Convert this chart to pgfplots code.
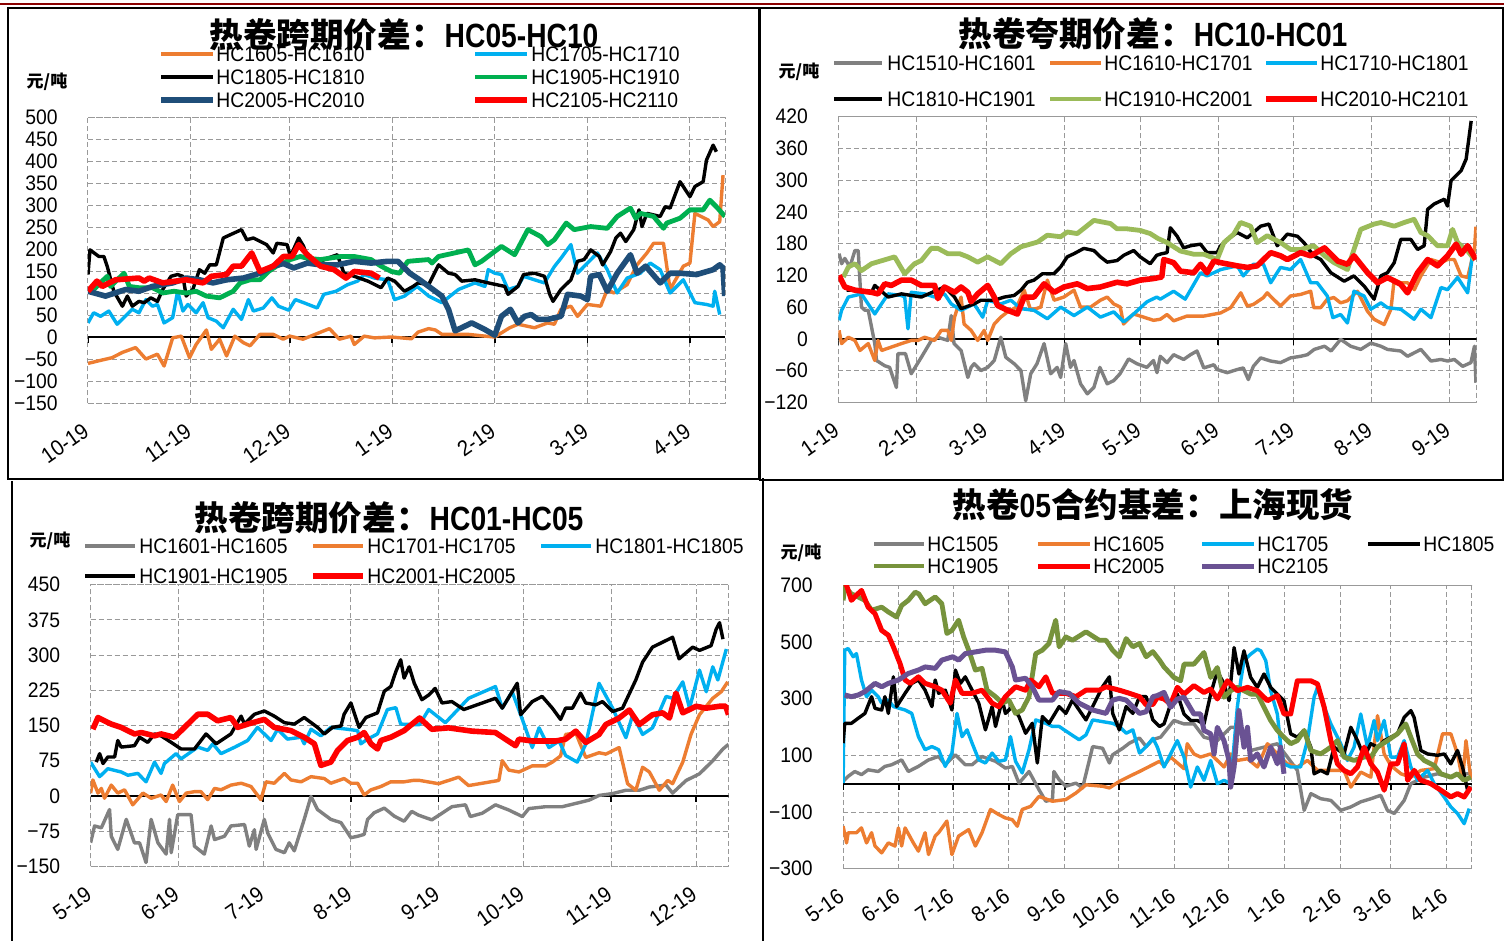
\documentclass[border=0pt]{standalone}
\usepackage{fontspec}
\setmainfont{Liberation Sans}[FakeStretch=0.92]
\newfontfamily\cjk{Noto Sans CJK SC}
\newfontfamily\titlefont{Liberation Sans}[FakeStretch=0.84]
\usepackage{pgfplots}
\pgfplotsset{compat=1.18}
\definecolor{corange}{HTML}{ED7D31}
\definecolor{cblue}{HTML}{00B0F0}
\definecolor{cgreen}{HTML}{00B050}
\definecolor{cdark}{HTML}{1F4E79}
\definecolor{cred}{HTML}{FF0000}
\definecolor{cgray}{HTML}{808080}
\definecolor{clgreen}{HTML}{9BBB59}
\definecolor{colive}{HTML}{77933C}
\definecolor{cpurple}{HTML}{6A5293}
\definecolor{cgrid}{HTML}{999999}
\definecolor{cframe}{HTML}{8B0000}
\pgfplotsset{
  panel/.style={
    scale only axis, no markers,
    axis line style={cgrid, line width=0.5pt, dash pattern=on 2.5pt off 1.5pt},
    grid=major,
    major grid style={cgrid, line width=0.5pt, dash pattern=on 2.5pt off 1.5pt},
    major tick length=0pt,
    xticklabel style={font=\fontsize{11}{12}\selectfont, rotate=35, anchor=east, inner sep=1pt},
    xticklabel shift=12pt,
    yticklabel style={font=\fontsize{10.5}{12}\selectfont, anchor=east, inner sep=0pt, xshift=-15pt},
    line join=round,
  },
  thin/.style={line width=1.7pt},
  thick/.style={line width=2.8pt},
}
\begin{document}
\begin{tikzpicture}
\path[use as bounding box] (0,0) rectangle (752pt,-470.5pt);
\fill[white] (0,0) rectangle (752pt,-470.5pt);

% ================= Panel 1 =================
\begin{axis}[panel, at={(44pt,-201.5pt)}, anchor=south west,
  width=318.5pt, height=143pt, xmin=0, xmax=192.6, ymin=-150, ymax=500,
  xtick={0,31,61,92,123,151,182},
  xticklabels={10-19,11-19,12-19,1-19,2-19,3-19,4-19},
  ytick={-150,-100,...,500},
  yticklabels={−150,−100,−50,0,50,100,150,200,250,300,350,400,450,500}]
\addplot[black, line width=1pt, forget plot] coordinates {(0,0) (192.6,0)};
\addplot[black, line width=0.8pt, ycomb, forget plot] coordinates {(0,-14) (31,-14) (61,-14) (92,-14) (123,-14) (151,-14) (182,-14)};
\addplot[corange, thin] coordinates {(0,-60)(3.3,-54)(7.3,-47)(10.4,-35)(14.4,-24)(17.5,-50)(21,-39)(23,-66)(25.6,-2)(28.2,2)(30.7,-47)(32.7,-17)(35.8,16)(37.3,-28)(39.8,-5)(41.9,-43)(44.4,2)(47,-13)(49,-20)(52,6)(56,6)(59,-5)(61,2)(65,-5)(70,10)(73,19)(76,-5)(79.5,2)(80.5,-17)(83.5,2)(86.6,-2)(91.7,0)(97.8,-4)(99.8,11)(103,19)(105,16)(107,6)(115,6)(120,2)(123,0)(127.5,21)(130,29)(135,21)(139,32)(141,29)(143,63)(146,70)(148,47)(151,74)(155,70)(157,108)(159,100)(163,119)(166,164)(169,191)(171,213)(174,213)(176,108)(180,161)(182,168)(183.5,281)(187.5,266)(189,251)(191,262)(192,368)};
\addplot[cblue, thin] coordinates {(0,32)(1.7,55)(3.8,47)(6.3,59)(8.8,29)(13.4,63)(15.4,55)(17.5,85)(19.5,70)(21,74)(23,32)(25.6,44)(27.1,104)(28.7,59)(30.2,74)(32.7,55)(34.8,78)(36.3,44)(38.8,36)(40.9,21)(43.9,63)(46.4,40)(48.5,85)(50,59)(53,66)(55.6,89)(57.6,70)(60.7,61)(62.7,85)(65.2,78)(69.3,66)(71.3,97)(75,104)(78.5,119)(81.5,127)(83.5,142)(86.6,134)(90.6,130)(92.7,85)(95.7,93)(99.5,115)(103,93)(107,78)(112,108)(117,123)(120,115)(121,153)(123,145)(125,142)(127,108)(130,115)(131.7,138)(135,130)(138,123)(141,160)(143,179)(146,210)(148,145)(151,168)(154,191)(157,153)(160,100)(163,134)(167,145)(170,168)(173,153)(176,100)(180,130)(183.5,78)(187,74)(189,70)(189.5,104)(191,51)};
\addplot[black, thin] coordinates {(0,142)(0.6,198)(3.3,183)(4.8,183)(5.8,161)(7.8,104)(10.4,70)(11.9,93)(13.4,70)(15.4,81)(17,78)(19,89)(21,81)(22.6,108)(25.1,138)(27.1,142)(28.7,138)(29.7,93)(31.7,108)(33.7,153)(35.3,145)(36.8,164)(38.8,164)(40.9,225)(42.9,232)(46.4,244)(48,221)(50,225)(54,210)(56,191)(57.1,213)(60.2,210)(61.2,183)(63.7,225)(65.2,206)(66.8,168)(70.3,172)(72.4,179)(75.4,187)(77.4,145)(80.5,138)(84.6,127)(88.6,112)(90.6,134)(92.7,127)(95.7,104)(98.3,115)(99.8,123)(103,119)(106,164)(109,145)(111,142)(113,127)(117,130)(121,123)(126,115)(127,97)(130,115)(131.7,142)(135,145)(138,138)(139.6,97)(140.6,81)(143,108)(146,130)(148,172)(150,176)(152,198)(154.6,183)(155.6,164)(158,194)(159.6,225)(161,236)(162.6,217)(165,244)(166.6,289)(167.5,251)(169,281)(173,274)(174.5,296)(176,293)(179,353)(182,319)(183.5,342)(186,353)(187,402)(189,436)(190,421)};
\addplot[cgreen, line width=2.4pt] coordinates {(1.2,104)(4.3,127)(5.8,138)(6.8,115)(10.9,145)(12.5,115)(15.4,112)(19.5,112)(22.6,100)(26,104)(29.7,100)(32.7,104)(35.8,93)(39.8,89)(43.9,104)(46,123)(49,130)(52,130)(54.6,149)(57,161)(61.2,176)(64.2,183)(66.3,179)(70.3,176)(76.4,183)(80.5,183)(85.6,176)(88.6,161)(91.7,149)(94.2,145)(96.7,172)(99.8,174)(103,176)(104,168)(106,183)(115,198)(117,164)(119,172)(125,206)(129,187)(133,244)(137,228)(139,210)(141,221)(144.6,259)(147,244)(152,251)(157,247)(160,274)(164,293)(165.6,270)(167,281)(171,274)(174,247)(175,259)(179,270)(182,289)(186,289)(188,311)(190,296)(192.6,274)};
\addplot[cdark, thick] coordinates {(0,104)(5.3,93)(11.4,108)(15.4,104)(19.5,115)(25.6,123)(29.7,134)(33.7,130)(37.8,123)(41.9,130)(47,134)(52,145)(56,161)(59.1,167)(62.2,157)(66.3,168)(70.3,164)(75.4,164)(80.5,172)(85.6,168)(90.6,172)(93.7,172)(95.7,157)(97.3,145)(100.3,130)(107,93)(109,63)(111,14)(116,32)(120,17)(123,4)(125,47)(127.7,63)(130,32)(132,47)(134,51)(136,40)(139,40)(143,47)(145,97)(149,93)(151,85)(152,138)(154.6,142)(157,104)(160,145)(164,187)(166,145)(168.6,161)(173,123)(176,145)(179,145)(184,142)(189,153)(191,164)(192,157)(192.5,93)};
\addplot[cred, thick] coordinates {(0,104)(2.7,127)(4.3,115)(8.3,130)(15.4,134)(17,127)(18.5,134)(22.6,123)(26.6,127)(29.7,130)(34.8,123)(37.3,138)(41.9,142)(43.9,161)(46.4,161)(49.5,191)(52,149)(56,161)(59.1,183)(61.7,183)(63.7,210)(66.3,187)(70.3,161)(74.4,153)(78,134)(80.5,149)(85.6,145)(88.1,134)};
\end{axis}

% ================= Panel 2 =================
\begin{axis}[panel, at={(419.15pt,-201.15pt)}, anchor=south west,
  width=319.2pt, height=142.8pt, xmin=0, xmax=253.8, ymin=-120, ymax=420,
  xtick={0,31,59,90,120,151,181,212,243},
  xticklabels={1-19,2-19,3-19,4-19,5-19,6-19,7-19,8-19,9-19},
  ytick={-120,-60,...,420},
  yticklabels={−120,−60,0,60,120,180,240,300,360,420}]
\addplot[black, line width=1pt, forget plot] coordinates {(0,0) (253.8,0)};
\addplot[black, line width=0.8pt, ycomb, forget plot] coordinates {(0,-11) (31,-11) (59,-11) (90,-11) (120,-11) (151,-11) (181,-11) (212,-11) (243,-11)};
\addplot[cgray, thin] coordinates {(0.3,161)(1.3,142)(2.6,152)(4.6,136)(6.6,167)(7.9,167)(9.2,60)(10.6,54)(11.9,54)(14.5,-9)(15.2,-41)(18.5,-51)(20.4,-54)(23.1,-92)(23.7,-28)(26.7,-28)(29,-66)(33,-35)(37,-3)(39.6,3)(43.5,-3)(44.9,44)(46,-9)(48.8,-22)(51.5,-73)(52.8,-54)(54,-47)(56.7,-60)(59.4,-54)(62,-41)(64.6,3)(66.6,-35)(69.9,-47)(72.6,-60)(74.5,-117)(76.5,-66)(79,-47)(81.8,-9)(84.4,-66)(87,-54)(88.4,-73)(90.4,-9)(92.3,-54)(93.7,-41)(96.3,-85)(99,-104)(101.6,-92)(104,-54)(106.9,-85)(109.5,-79)(112,-66)(115.4,-38)(118.7,-47)(122.7,-54)(125.3,-41)(126.7,-64)(128,-33)(130.7,-45)(133.3,-30)(137.3,-39)(140,-30)(142.6,-23)(145.3,-55)(149.3,-49)(150.6,-58)(154.6,-64)(158.6,-58)(161,-55)(163,-77)(165,-52)(167.9,-36)(171.9,-42)(175.8,-45)(179.8,-36)(183.8,-33)(186.5,-30)(189.2,-20)(193.3,-14)(195.9,-23)(199.7,-1)(203.7,-14)(207.7,-20)(211.7,-8)(215.7,-14)(218.3,-20)(223.6,-23)(226.3,-33)(231.6,-20)(235.6,-42)(239.6,-39)(242.2,-42)(244.9,-39)(248.2,-52)(251.5,-45)(252.9,-14)(253.5,-83)};
\addplot[corange, thin] coordinates {(0.3,16)(1.3,-9)(4,3)(6.6,-3)(8.6,-22)(11.9,-9)(14.5,-41)(15.8,-3)(17.2,-22)(25.1,-9)(29,-3)(31.7,-3)(34.3,3)(38.3,-3)(40.9,16)(43.5,16)(44.9,-3)(46.2,41)(48.8,79)(50,28)(52.8,16)(55.4,-3)(58,16)(59.4,-3)(62,28)(64.6,41)(67.3,51)(70.9,60)(73.9,92)(76.5,54)(80.5,60)(83.1,111)(85.8,73)(89.7,79)(93.7,92)(96.3,60)(100.3,60)(104.2,73)(106.9,79)(109.5,66)(112.1,60)(113.4,28)(117.4,47)(121.4,41)(125.3,35)(128,37)(130.7,46)(133.3,34)(138.6,43)(145.3,43)(152,49)(156,59)(160,87)(162.6,62)(165,65)(169,78)(170.5,87)(173,75)(175.8,62)(179.8,81)(183.8,84)(187.8,90)(189,59)(191.8,59)(194.4,75)(197,78)(199.7,68)(202.4,72)(206.4,90)(210.4,52)(213,37)(217,27)(219.7,56)(221,112)(223.6,106)(226.3,106)(229,93)(231.6,119)(235.6,150)(239.6,144)(242.2,150)(244.9,150)(247.6,119)(250.2,116)(252.9,169)(253.5,212)};
\addplot[cblue, thin] coordinates {(0.3,35)(1.3,54)(4,79)(6.6,82)(9.2,85)(14.5,47)(19.8,85)(25.1,82)(26.4,79)(27.7,19)(29,88)(34.3,85)(38.3,79)(42.2,85)(44.9,66)(48.8,54)(54,66)(57.4,41)(59.4,73)(64.6,66)(68.6,73)(72.6,57)(77.8,54)(83.1,38)(88.4,60)(93.7,44)(99,60)(104.2,41)(109.5,51)(113.5,32)(117.4,47)(122.7,70)(126.6,79)(128,75)(133.3,90)(137.9,75)(144,125)(146.6,119)(152,131)(158.6,138)(161,119)(165,141)(169,141)(171.9,106)(175.8,135)(179.8,131)(183.8,150)(187.8,106)(190.4,106)(194.4,81)(196.6,40)(199.7,46)(202.4,30)(205,90)(209,81)(211.7,56)(215.7,68)(218.3,59)(223.6,56)(228.9,37)(231.6,56)(235.6,40)(239.6,97)(242.2,93)(246.2,116)(250.2,87)(252.2,163)};
\addplot[black, thin] coordinates {(3.3,92)(6.6,92)(13.2,88)(14.5,101)(19.8,79)(25.1,85)(33,79)(42.2,98)(46.2,79)(48.8,57)(54,66)(56.7,73)(62,73)(66,79)(69.9,82)(72.6,92)(75.2,107)(77.8,111)(81.1,123)(85.7,123)(88.4,136)(91,155)(93.7,161)(97.6,171)(101.6,167)(104.2,155)(106.9,145)(110.8,148)(113.5,158)(117.4,167)(120,155)(124,142)(126.6,158)(128.6,161)(130.7,163)(132,210)(134.7,194)(137.3,172)(140,176)(144,179)(146.6,163)(150.6,163)(152,176)(154.6,188)(158.6,201)(162.6,191)(167.9,213)(171.2,217)(174.5,176)(178.5,198)(182.5,194)(185.1,182)(189,157)(191.8,150)(195.8,125)(201.1,109)(205,119)(209,100)(213,75)(215.7,119)(218.3,125)(221,144)(223.6,188)(227.6,188)(230.3,169)(232.9,176)(234.3,245)(236.9,255)(240.9,264)(242.2,251)(243.6,299)(247.6,318)(249.6,340)(251.6,412)};
\addplot[clgreen, line width=2.4pt] coordinates {(2,117)(4,136)(6.6,142)(9.2,129)(13.2,142)(22.4,155)(26.4,123)(30.3,142)(33,148)(36.9,171)(39.6,171)(43.5,161)(48.2,161)(51.5,155)(55.4,145)(59.4,155)(64.6,142)(68.6,161)(72.6,174)(79.2,183)(83.1,196)(88.4,193)(91,202)(95,199)(101.6,224)(108.2,218)(110.8,208)(114.8,208)(120,205)(124,199)(127,190)(130.7,182)(136,166)(141.3,160)(145.3,160)(150.6,150)(153.3,182)(157.2,198)(159.9,220)(163.9,213)(166.5,182)(170.5,195)(175.8,182)(179.8,169)(183.8,169)(189,176)(193.3,157)(197.1,144)(202.4,131)(205,169)(207.7,207)(213,217)(215.7,220)(221,213)(225,220)(228.9,226)(231.6,201)(234.3,195)(238.2,176)(242.2,176)(244.2,207)(246.2,182)(250.2,166)(252.9,150)};
\addplot[cred, thick] coordinates {(0.3,120)(2.6,98)(6.6,92)(13.2,88)(15.8,85)(18.5,104)(21.1,101)(25.1,111)(29,111)(33,101)(38.3,101)(39.6,76)(42.2,98)(46.2,88)(48.8,98)(51.5,88)(52.8,70)(55.4,85)(59.4,101)(62,79)(63.3,63)(67.3,54)(71.2,47)(73.9,79)(77.8,79)(81.8,104)(85.8,88)(89.7,98)(95,104)(99,95)(104.2,98)(110.8,107)(114.8,104)(120,111)(125.3,114)(128.6,117)(129.4,150)(133.3,144)(136,128)(141.3,125)(144,141)(146.6,125)(149.3,147)(152,144)(158.6,138)(162.6,135)(166.5,138)(171.9,163)(175.8,157)(178.5,150)(183.8,163)(187.8,157)(193.3,172)(198.6,147)(202.4,141)(205,157)(210.4,125)(214.4,106)(218.3,116)(223.6,103)(226.3,87)(230.3,125)(234.3,150)(238.2,138)(242.2,157)(245.6,179)(247.6,160)(250.2,176)(253.5,150)};
\end{axis}

% ================= Panel 3 =================
\begin{axis}[panel, at={(45.3pt,-433.15pt)}, anchor=south west,
  width=319pt, height=140.8pt, xmin=0, xmax=225.5, ymin=-150, ymax=450,
  xtick={0,31,61,92,123,153,184,214},
  xticklabels={5-19,6-19,7-19,8-19,9-19,10-19,11-19,12-19},
  ytick={-150,-75,...,450},
  yticklabels={−150,−75,0,75,150,225,300,375,450}]
\addplot[black, line width=1pt, forget plot] coordinates {(0,0) (225.5,0)};
\addplot[black, line width=0.8pt, ycomb, forget plot] coordinates {(0,-13) (31,-13) (61,-13) (92,-13) (123,-13) (153,-13) (184,-13) (214,-13)};
\addplot[cgray, thin] coordinates {(0,-100)(1.4,-64)(3.8,-68)(6.7,-29)(7.3,-86)(9.6,-114)(12.6,-50)(15.5,-100)(17.3,-100)(19.6,-142)(21.4,-50)(23.8,-100)(26.7,-124)(27.9,-50)(28.5,-121)(30.8,-40)(35.5,-40)(36.7,-107)(40.2,-124)(42.6,-64)(43.8,-93)(47.3,-86)(49.6,-64)(54.4,-61)(56.1,-107)(57.9,-72)(58.5,-114)(61.4,-50)(62.6,-79)(65.5,-114)(68.5,-121)(70.2,-100)(72,-117)(75.5,-50)(77.9,-1)(80.2,-29)(84.9,-50)(88.5,-57)(92,-89)(94.4,-86)(96.7,-82)(97.9,-50)(100.2,-36)(103.8,-26)(107.3,-43)(110.8,-54)(113.5,-33)(115.9,-41)(120.6,-51)(124.2,-37)(127.7,-23)(132.5,-19)(134.2,-44)(138.4,-37)(143.1,-19)(147.8,-30)(152.6,-44)(154.9,-27)(160.8,-23)(166.7,-23)(171.5,-16)(176.2,-9)(179.7,1)(184.5,5)(189.2,12)(193.9,12)(197.5,19)(203.4,23)(205.7,6)(210.5,33)(215.2,47)(219.9,75)(223.5,100)(225.5,110)};
\addplot[corange, thin] coordinates {(0,6)(0.8,34)(2.6,6)(3.8,16)(4.9,-5)(7.3,23)(9.6,6)(12,13)(14.9,-19)(18.5,6)(21.4,-5)(24.9,2)(26.7,-12)(29,23)(31.4,-12)(33.8,6)(36.7,9)(39,9)(41.4,-8)(43.8,16)(46.1,13)(49.6,23)(53.2,27)(56.7,20)(60.2,-8)(62,30)(64.9,27)(68.5,48)(70.8,34)(74.4,30)(77.9,41)(82.6,37)(84.9,27)(89.6,37)(92,27)(94.4,27)(96.7,2)(99.1,13)(102.6,20)(106.1,30)(110.8,30)(114,33)(116.3,33)(123,26)(130.1,40)(133.6,22)(144.3,33)(145.5,75)(147.8,55)(151.4,51)(156.1,64)(160.8,64)(163.2,72)(166.1,85)(167.9,131)(171.5,134)(175,82)(179.7,92)(182.1,89)(186.8,103)(189.8,26)(192.7,12)(195.1,61)(197.5,51)(201,12)(204,33)(205.7,26)(209.3,72)(212.2,131)(215.2,173)(219.9,208)(222.9,222)(225.2,243)};
\addplot[cblue, thin] coordinates {(0,72)(3.2,41)(6.1,58)(10.8,51)(13.2,44)(16.7,48)(19.6,30)(22.6,72)(24.9,48)(26.1,69)(30.2,90)(32,79)(37.9,104)(41.4,97)(43.2,111)(46.1,90)(51,104)(55.5,118)(59,146)(63.8,118)(66.1,142)(69.6,121)(74.4,125)(75.5,111)(77.9,142)(81.4,128)(84.9,146)(90.8,142)(94.4,139)(95.5,111)(97.9,121)(101.4,132)(104.9,184)(107.9,188)(109.6,153)(113.5,152)(116.3,152)(119.5,184)(125.4,156)(133.6,208)(143.1,233)(145.5,187)(149,222)(152.6,163)(156.1,103)(158.5,145)(162,103)(165.6,117)(167.9,86)(172,72)(175,110)(179.7,240)(184.5,187)(189.2,124)(191.6,173)(195.1,131)(198.6,145)(203.4,212)(205.7,208)(209.3,243)(211.7,187)(215.2,268)(217.6,222)(219.9,275)(221.7,247)(224.7,313)};
\addplot[black, thin] coordinates {(2,72)(3.2,90)(4.4,69)(6.1,83)(8.5,83)(9.6,118)(10.8,104)(15.5,107)(17.3,125)(20.2,114)(22.6,132)(24.9,128)(28.5,114)(32,100)(36.7,100)(40.8,132)(44.4,111)(49.6,132)(53.2,170)(54.4,153)(57.9,174)(61.4,181)(64.9,170)(68.5,156)(72,153)(75.5,167)(80.2,146)(82.6,132)(85.5,146)(88.5,149)(89.6,174)(92,198)(94.9,146)(97.3,167)(101.4,177)(103.8,223)(106.1,233)(107.9,265)(109.6,290)(110.8,251)(112.6,275)(114.4,240)(117.1,205)(119.5,215)(121.8,229)(124.2,198)(127.7,201)(131.9,184)(143.1,208)(145.5,187)(150.8,240)(152,173)(156.1,201)(159.6,212)(163.2,187)(166.1,163)(167.9,187)(170.3,187)(173.2,219)(175,198)(178.6,194)(180.9,201)(184.5,180)(188,187)(192.7,247)(195.1,285)(198.6,317)(201,324)(205.7,338)(208,292)(212.8,317)(215.2,310)(219.3,320)(221.1,355)(222.3,369)(223.5,334)};
\addplot[cred, thick] coordinates {(0.8,142)(2.6,167)(4.9,160)(7.3,153)(10.8,146)(15.5,132)(17.9,135)(22.6,128)(24.9,132)(29.6,125)(33.2,146)(37.9,174)(41.4,174)(44.9,160)(49.6,167)(52,146)(55.5,153)(61.4,163)(64.9,146)(70.8,139)(75.5,125)(79.1,111)(81.4,65)(84.9,72)(87.3,97)(90.8,118)(94.4,125)(96.7,135)(99.1,111)(101.4,100)(102.6,118)(106.1,125)(110.8,139)(113,150)(116.3,166)(120.6,142)(126.5,145)(134.8,138)(143.1,135)(146.6,121)(150.2,107)(151.4,121)(156.1,117)(164.4,117)(167.9,121)(171.5,138)(175,114)(179.7,131)(182.1,152)(186.8,166)(190.4,183)(193.9,152)(198.6,173)(202.2,177)(204.6,166)(206.9,219)(209.3,177)(214,191)(217.6,187)(222.3,191)(224.5,191)(225.5,173)};
\end{axis}

% ================= Panel 4 =================
\begin{axis}[panel, at={(421.55pt,-434.35pt)}, anchor=south west,
  width=314.4pt, height=141.7pt, xmin=0, xmax=349, ymin=-300, ymax=700,
  xtick={0,31,61,92,123,153,184,214,245,276,304,335},
  xticklabels={5-16,6-16,7-16,8-16,9-16,10-16,11-16,12-16,1-16,2-16,3-16,4-16},
  ytick={-300,-100,...,700},
  yticklabels={−300,−100,100,300,500,700}]
\addplot[black, line width=1pt, forget plot] coordinates {(0,0) (349,0)};
\addplot[black, line width=0.8pt, ycomb, forget plot] coordinates {(0,-21) (31,-21) (61,-21) (92,-21) (123,-21) (153,-21) (184,-21) (214,-21) (245,-21) (276,-21) (304,-21) (335,-21)};
\addplot[cgray, thin] coordinates {(0,8)(2.8,26)(6.5,43)(10.2,32)(13.9,49)(19.5,43)(23.2,61)(27,67)(32.5,84)(36.2,43)(41.8,61)(47.4,84)(53,96)(56.7,67)(62.3,102)(67.8,67)(71.6,67)(77.1,96)(84.6,79)(90.1,55)(93.9,61)(97.6,2)(103.2,43)(108.7,-21)(112.5,-62)(116.2,-56)(117,43)(119.9,14)(123.6,-9)(129.2,2)(132.9,-15)(138.5,131)(144,125)(147.8,73)(149.6,102)(155.2,125)(158.9,143)(164.5,161)(168.2,131)(172,156)(176.2,164)(183.6,223)(189.2,211)(194.7,211)(200.3,164)(207.7,152)(215.1,199)(220.7,199)(226.2,117)(233.6,129)(241,141)(246.6,94)(252.1,47)(255.9,-94)(259.6,-35)(265.1,-53)(270.7,-59)(276.2,-94)(281.8,-82)(287.3,-64)(292.9,-53)(298.4,-41)(302.1,-94)(305.9,-105)(311.4,-59)(315.1,0)(322.5,23)(329.9,35)(337.3,23)(342.9,35)(348.4,35)};
\addplot[corange, thin] coordinates {(0,-150)(1.9,-209)(2.8,-173)(7.4,-173)(10.2,-156)(13,-209)(15.8,-173)(17.7,-220)(21.4,-244)(25.1,-209)(28.8,-220)(30.7,-156)(32.5,-220)(34.4,-156)(39,-209)(41.8,-238)(45.5,-173)(47.4,-250)(51.1,-185)(53,-173)(57.6,-132)(60.4,-250)(64.1,-185)(69.7,-162)(73.4,-220)(77.1,-173)(81.8,-91)(86.4,-109)(90.1,-121)(93.9,-127)(96.7,-150)(99.4,-91)(104.1,-80)(108.7,-45)(116.2,-62)(123.6,-56)(129.2,-33)(134.8,-4)(144,-9)(147.8,-15)(153.3,8)(158.9,26)(164.5,43)(171.9,67)(175.6,79)(178.1,64)(181.8,94)(189.2,53)(191,141)(194.7,105)(198.4,94)(204,105)(207.7,82)(211.4,59)(215.1,105)(218.8,82)(224.4,88)(230,59)(235.5,141)(241,105)(246.6,70)(252.1,59)(257.7,82)(263.3,47)(268.8,47)(274.4,47)(278,47)(281.8,-12)(287.3,41)(292.9,23)(296.6,240)(300.3,105)(304,64)(309.6,35)(315.1,23)(320.7,47)(328.1,53)(332.7,176)(337.3,176)(341,105)(343.8,12)(345.7,152)(348.4,18)};
\addplot[cblue, thin] coordinates {(0,2)(0.9,471)(2.8,477)(5.6,448)(7.4,459)(10.2,366)(13,307)(15.8,330)(19.5,307)(21.4,284)(25.1,295)(28,272)(34.4,260)(38.1,248)(41.8,166)(45.5,120)(49.3,131)(53,120)(56.7,61)(60.4,108)(63.2,248)(66,166)(68.8,190)(71.6,143)(75.3,84)(79,73)(82.7,108)(86.4,79)(90.1,84)(92.9,166)(95.7,79)(99.4,38)(103.2,120)(106.9,225)(112.5,213)(116.2,202)(119.9,202)(125.5,178)(131,155)(134.8,172)(138.5,225)(144,219)(149.6,213)(153.3,202)(157.1,178)(160.8,190)(164.5,108)(168.2,131)(172,160)(174.4,129)(178.1,59)(181.8,105)(185.5,152)(189.2,94)(192.9,-12)(196.6,59)(200.3,12)(204,82)(207.7,0)(211.4,12)(215.1,0)(218.8,270)(220.7,363)(222.5,434)(226.2,457)(229.9,475)(231.8,469)(234.6,434)(237.3,328)(241,246)(242.8,141)(244.7,70)(248.4,59)(253.9,59)(257.7,152)(261.4,305)(263.3,340)(265,305)(270.7,211)(276.2,141)(279.9,82)(283.6,129)(287.3,246)(291,129)(294.7,223)(296.6,152)(300.3,223)(304,94)(307.7,94)(311.4,152)(315.1,59)(318.8,12)(324.4,47)(328.1,0)(333.6,-47)(337.3,-82)(341,-105)(344.7,-141)(347.5,-88)};
\addplot[black, thin] coordinates {(0,143)(0.9,213)(4.6,213)(8.4,231)(12.1,248)(15.8,307)(17.7,266)(21.4,260)(23.2,307)(25.1,248)(27.9,377)(29.7,272)(34.4,319)(38.1,354)(41.8,366)(45.5,330)(49.3,272)(51.1,366)(53,319)(56.7,330)(60.4,260)(62.3,401)(65.1,354)(67.8,377)(71.6,330)(75.3,284)(79,190)(82.7,272)(84.6,202)(88.3,295)(90.1,248)(93.9,272)(97.6,237)(101.3,178)(105,213)(107.8,73)(110.6,237)(114.3,213)(119.9,272)(123.6,248)(127.3,295)(131,260)(134.8,225)(138.5,272)(144,342)(147.8,377)(149.6,248)(153.3,190)(157.1,272)(160.8,248)(164.5,307)(168.2,307)(171.9,225)(175.6,202)(178.1,211)(181.8,281)(185.5,316)(189.2,246)(192.9,223)(196.6,223)(200.3,211)(204,316)(207.7,398)(211.4,352)(214.2,293)(217,480)(219.7,387)(222.5,469)(226.2,375)(229.9,340)(233.6,387)(237.3,340)(241,316)(244.7,293)(248.4,176)(252.1,164)(255.9,188)(259.6,129)(261.4,35)(265.1,47)(268.8,35)(272.5,129)(278,105)(281.8,199)(285.5,152)(289.2,94)(292.9,141)(296.6,129)(300.3,152)(304,164)(307.7,176)(311.4,234)(315.1,258)(316.9,234)(320.7,117)(324.4,105)(329.9,100)(333.6,105)(337.3,70)(341,117)(343.8,59)(346.6,-23)(348.4,-12)};
\addplot[colive, line width=2.4pt] coordinates {(0,647)(0.9,694)(4.6,670)(8.4,659)(12.1,647)(15.8,612)(21.4,623)(25.1,606)(29.7,588)(32.5,629)(36.2,647)(40,676)(42,670)(45.5,635)(51.1,659)(54.8,635)(57.6,530)(60.4,541)(64.1,577)(66.9,518)(69.7,471)(73.4,401)(77.1,407)(79.9,330)(84.6,307)(88.3,284)(92,295)(95.7,248)(99.4,260)(103.2,307)(106.9,459)(110.6,471)(114.3,495)(118,577)(119.9,483)(123.6,518)(127.3,506)(134.8,536)(142.2,506)(145.9,506)(149.6,471)(153.3,448)(157.1,512)(160.8,483)(164.5,495)(168.2,448)(171.9,466)(175.6,436)(178.1,412)(183.6,375)(187.3,363)(189.2,422)(194.7,422)(200.3,463)(204,375)(207.7,410)(211.4,305)(215.1,328)(218.8,340)(222.5,328)(226.2,316)(229.9,316)(233.6,270)(237.3,223)(241,188)(244.7,164)(248.4,141)(252.1,152)(255.9,188)(259.6,117)(265.1,105)(270.7,129)(274.4,152)(278,94)(283.6,82)(289.2,94)(292.9,94)(296.6,129)(302.1,152)(307.7,176)(312.3,211)(315.1,164)(318.8,105)(322.5,82)(328.1,64)(331.8,35)(337.3,23)(341,35)(344.7,12)(348.4,23)};
\addplot[cred, line width=2.5pt] coordinates {(0,720)(1.9,700)(4.6,647)(7.4,665)(10.2,682)(13.9,623)(17.7,600)(21.4,541)(25.1,524)(27.9,483)(31.6,424)(34.4,366)(37.2,354)(41.8,377)(45.5,354)(51.1,342)(54.8,330)(59.5,284)(62.3,366)(66,319)(71.6,319)(77.1,330)(82.7,284)(86.4,272)(90.1,307)(95.7,342)(101.3,330)(104.1,366)(108.7,342)(112.5,377)(116.2,319)(123.6,319)(129.2,307)(134.8,330)(142.2,330)(145.9,342)(153.3,330)(158.9,319)(164.5,307)(168.2,278)(172,280)(174.4,305)(178.1,299)(181.8,281)(185.5,340)(189.2,316)(194.7,346)(200.3,322)(204,334)(207.7,299)(213.3,363)(218.8,328)(224.4,340)(229.9,328)(235.5,293)(241,311)(244.7,246)(248.4,246)(252.1,363)(259.6,363)(263.3,352)(267,270)(270.7,152)(274.4,70)(278,47)(281.8,35)(285.5,59)(289.2,129)(292.9,70)(296.6,41)(300.3,-23)(304,70)(307.7,70)(311.4,141)(313.3,12)(317,47)(320.7,12)(326.2,0)(331.8,-23)(337.3,-47)(341,-35)(344.7,-47)(348.4,-12)};
\addplot[cpurple, line width=2.5pt] coordinates {(0.9,313)(4.6,307)(8.4,313)(12.1,325)(17.7,354)(21.4,342)(25.1,354)(30.7,366)(36.2,389)(41.8,401)(45.5,412)(51.1,407)(54.8,436)(60.9,448)(64.1,436)(67.8,459)(73.4,465)(79,471)(84.6,471)(90.1,465)(93.9,412)(95.7,366)(101.3,372)(105,342)(108.7,295)(116.2,295)(119.9,325)(125.5,319)(131,284)(138.5,260)(145.9,248)(149.6,295)(153.3,301)(157.1,295)(160.8,272)(164.5,248)(168.2,254)(172,307)(174.4,311)(178.1,322)(181.8,270)(185.5,299)(189.2,305)(194.7,246)(198.4,246)(200.3,188)(204,176)(205.9,105)(207.7,199)(211.4,152)(214.2,82)(215.1,-12)(217,59)(219.7,258)(222.5,129)(224.4,199)(226.2,82)(229.9,105)(233.6,59)(237.3,129)(241,70)(242.8,129)(244.7,35)};
\end{axis}

% ================= Decorations in pixel units =================
\begin{scope}[x=0.5pt, y=-0.5pt]
\draw[cframe, line width=0.8pt] (0,4) -- (1504,4);
\draw[black, line width=0.8pt] (8,8) rectangle (759,479);
\draw[black, line width=0.8pt] (760,8) rectangle (1503,480);
\draw[black, line width=0.8pt] (12,481) -- (12,941);
\draw[black, line width=0.8pt] (763,478) -- (763,941);
% titles
\node[inner sep=0pt] at (404,35) {\fontsize{16.8}{20}\selectfont\cjk\bfseries 热卷跨期价差：{\titlefont\bfseries HC05-HC10}};
\node[inner sep=0pt] at (1153,34) {\fontsize{16.8}{20}\selectfont\cjk\bfseries 热卷夸期价差：{\titlefont\bfseries HC10-HC01}};
\node[inner sep=0pt] at (389,518) {\fontsize{16.8}{20}\selectfont\cjk\bfseries 热卷跨期价差：{\titlefont\bfseries HC01-HC05}};
\node[inner sep=0pt] at (1153,505) {\fontsize{16.8}{20}\selectfont\cjk\bfseries 热卷{\titlefont\bfseries 05}合约基差：上海现货};
% units
\node[inner sep=0pt] at (47,82) {\fontsize{8.5}{10}\selectfont\cjk\bfseries 元/吨};
\node[inner sep=0pt] at (799,72) {\fontsize{8.5}{10}\selectfont\cjk\bfseries 元/吨};
\node[inner sep=0pt] at (50,541) {\fontsize{8.5}{10}\selectfont\cjk\bfseries 元/吨};
\node[inner sep=0pt] at (801,553) {\fontsize{8.5}{10}\selectfont\cjk\bfseries 元/吨};
% legends
\tikzset{lt/.style={anchor=west, inner sep=0pt, font=\fontsize{10.5}{12}\selectfont}}
% panel 1
\draw[corange, line width=1.7pt] (161,54) -- (213,54); \node[lt] at (216,54) {HC1605-HC1610};
\draw[cblue, line width=1.7pt] (475,54) -- (527,54); \node[lt] at (531,54) {HC1705-HC1710};
\draw[black, line width=1.7pt] (161,77) -- (213,77); \node[lt] at (216,77) {HC1805-HC1810};
\draw[cgreen, line width=2.4pt] (475,77) -- (527,77); \node[lt] at (531,77) {HC1905-HC1910};
\draw[cdark, line width=2.8pt] (161,100) -- (213,100); \node[lt] at (216,100) {HC2005-HC2010};
\draw[cred, line width=2.8pt] (475,100) -- (527,100); \node[lt] at (531,100) {HC2105-HC2110};
% panel 2
\draw[cgray, line width=1.7pt] (834,63) -- (882,63); \node[lt] at (887,63) {HC1510-HC1601};
\draw[corange, line width=1.7pt] (1050,63) -- (1101,63); \node[lt] at (1104,63) {HC1610-HC1701};
\draw[cblue, line width=1.7pt] (1266,63) -- (1317,63); \node[lt] at (1320,63) {HC1710-HC1801};
\draw[black, line width=1.7pt] (834,99) -- (882,99); \node[lt] at (887,99) {HC1810-HC1901};
\draw[clgreen, line width=2.4pt] (1050,99) -- (1101,99); \node[lt] at (1104,99) {HC1910-HC2001};
\draw[cred, line width=2.8pt] (1266,99) -- (1317,99); \node[lt] at (1320,99) {HC2010-HC2101};
% panel 3
\draw[cgray, line width=1.7pt] (85,546) -- (135,546); \node[lt] at (139,546) {HC1601-HC1605};
\draw[corange, line width=1.7pt] (313,546) -- (363,546); \node[lt] at (367,546) {HC1701-HC1705};
\draw[cblue, line width=1.7pt] (541,546) -- (591,546); \node[lt] at (595,546) {HC1801-HC1805};
\draw[black, line width=1.7pt] (85,576) -- (135,576); \node[lt] at (139,576) {HC1901-HC1905};
\draw[cred, line width=2.8pt] (313,576) -- (363,576); \node[lt] at (367,576) {HC2001-HC2005};
% panel 4
\draw[cgray, line width=1.7pt] (874,544) -- (924,544); \node[lt] at (927,544) {HC1505};
\draw[corange, line width=1.7pt] (1038,544) -- (1090,544); \node[lt] at (1093,544) {HC1605};
\draw[cblue, line width=1.7pt] (1202,544) -- (1254,544); \node[lt] at (1257,544) {HC1705};
\draw[black, line width=1.7pt] (1368,544) -- (1420,544); \node[lt] at (1423,544) {HC1805};
\draw[colive, line width=2.4pt] (874,566) -- (924,566); \node[lt] at (927,566) {HC1905};
\draw[cred, line width=2.5pt] (1038,566) -- (1090,566); \node[lt] at (1093,566) {HC2005};
\draw[cpurple, line width=2.5pt] (1202,566) -- (1254,566); \node[lt] at (1257,566) {HC2105};
\end{scope}
\end{tikzpicture}
\end{document}
